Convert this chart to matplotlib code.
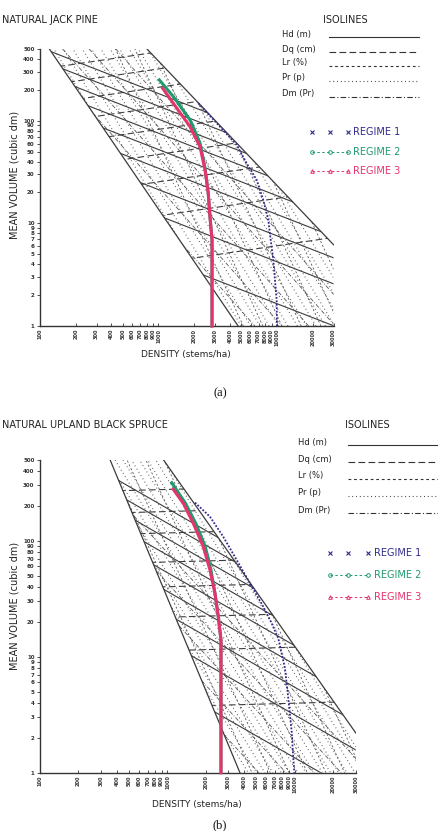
import numpy as np
import matplotlib
matplotlib.use("Agg")
import matplotlib.pyplot as plt
from matplotlib.patches import Polygon
from matplotlib.lines import Line2D
from matplotlib.ticker import NullLocator

# ---------------- DATA ----------------
x_ticks = [100, 200, 300, 400, 500, 600, 700, 800, 900, 1000,
           2000, 3000, 4000, 5000, 6000, 7000, 8000, 9000, 10000, 20000, 30000]
y_ticks = [1, 2, 3, 4, 5, 6, 7, 8, 9, 10, 20, 30, 40, 50, 60, 70, 80, 90,
           100, 200, 300, 400, 500]

# panel (a) natural jack pine
a_left_density = [120, 4700]
a_left_volume = [500, 1]
a_right_density = [800, 30000]
a_right_volume = [500, 6.2]
a_hd_slope = -0.45
a_hd_left_volumes = [3.14, 11.3, 25, 48, 85, 140, 215, 320, 470]
a_dq_slope = 0.17
a_dq_left_volumes = [4.57, 12.0, 24, 42, 70, 110, 165, 240, 340]
a_pr_slope = -1.9
a_pr_density_at_1 = [2900, 3450, 4150, 5000, 6000, 7200, 8600, 10300, 12400,
                     14900, 17800, 21400, 25700, 30800, 37000, 44400, 53000]
a_lr_slope = -2.5
a_lr_density_at_1 = [5200, 7600, 11000, 16000, 23500, 34000, 50000]
a_dm_slope = -1.3
a_dm_density_at_1 = [6500, 11000, 18500, 31000, 52000]

a_r1_density = [2170, 3300, 4570, 5550, 6740, 7660, 8450, 8850, 9310, 9940, 10000]
a_r1_volume = [148, 87.6, 58.1, 38.5, 26.5, 16.9, 10.8, 6.9, 4.4, 1.79, 1.0]
a_r2_density = [1016, 1334, 1845, 2240, 2470, 2630, 2720, 2830, 2830]
a_r2_volume = [250, 172, 102, 60.8, 34.7, 19.7, 11.6, 6.9, 1.0]
a_r3_density = [1085, 1334, 1845, 2240, 2470, 2630, 2720, 2830, 2830]
a_r3_volume = [207, 148, 87.6, 55.9, 33.2, 19.7, 11.6, 6.9, 1.0]

# panel (b) natural upland black spruce
b_left_density = [354, 3700]
b_left_volume = [500, 1]
b_right_density = [927, 30000]
b_right_volume = [500, 2.2]
b_hd_slope = -0.63
b_hd_left_volumes = [3.34, 10.2, 21, 38, 62, 98, 150, 225, 330]
b_dq_slope = 0.03
b_dq_left_volumes = [3.8, 11.4, 22, 40, 65, 115, 175, 270]
b_pr_slope = -1.8
b_pr_density_at_1 = [3700, 4300, 5000, 5800, 6700, 7800, 9000, 10500, 12200,
                     14100, 16400, 19000, 22000, 25500, 29600, 34300, 39800]
b_lr_slope = -2.4
b_lr_density_at_1 = [4600, 6400, 9000, 12500, 17500, 24500, 34000]
b_dm_slope = -1.2
b_dm_density_at_1 = [5200, 8500, 14000, 23000, 38000]

b_r1_density = [1644, 2154, 2739, 3489, 4436, 5641, 6567, 7396, 8349, 8860, 9420, 9700, 9900]
b_r1_volume = [213, 161, 108, 68.2, 42.9, 27.0, 19.4, 14.4, 7.94, 4.38, 2.26, 1.33, 1.0]
b_r2_density = [1079, 1384, 1667, 1979, 2193, 2358, 2503, 2628, 2628]
b_r2_volume = [316, 210, 141, 88.8, 55.9, 35.2, 22.1, 13.9, 1.0]
b_r3_density = [1110, 1330, 1594, 1909, 2154, 2358, 2503, 2628, 2628]
b_r3_volume = [277, 210, 141, 88.8, 55.9, 35.2, 22.1, 13.9, 1.0]

iso_labels = ["Hd (m)", "Dq (cm)", "Lr (%)", "Pr (p)", "Dm (Pr)"]
regime_labels = ["REGIME 1", "REGIME 2", "REGIME 3"]

# ---------------- STYLE ----------------
C_ISO = "#3c3c3c"
C_R1 = "#2f2a8c"
C_R2 = "#1f9a6c"
C_R3 = "#e5336c"
ST_HD = "-"
ST_DQ = (0, (6, 3))
ST_LR = (0, (2.5, 2.5))
ST_PR = (0, (0.8, 2.6))
ST_DM = (0, (5, 2, 1, 2))

W, H = 439, 831
fig = plt.figure(figsize=(W / 100, H / 100), dpi=100)


def fxy(x, y):
    return x / W, 1 - y / H


def on_boundary(v, bx, by):
    lx1, lx2 = np.log10(bx)
    ly1, ly2 = np.log10(by)
    return 10 ** (lx1 + (np.log10(v) - ly1) * (lx2 - lx1) / (ly2 - ly1))


def family(ax, clip, ax0, ay0, slope, ls, lw=0.7, color=C_ISO):
    xs = np.array([30.0, 200000.0])
    for x0, y0 in zip(ax0, ay0):
        ys = y0 * (xs / x0) ** slope
        ln, = ax.plot(xs, ys, ls=ls, lw=lw, color=color, zorder=2)
        ln.set_clip_path(clip)


def panel(rect, left_d, left_v, right_d, right_v,
          hd_s, hd_v, dq_s, dq_v, pr_s, pr_d, lr_s, lr_d, dm_s, dm_d,
          r1, r2, r3):
    ax = fig.add_axes(rect)
    ax.set_xscale("log")
    ax.set_yscale("log")
    ax.set_xlim(100, 30000)
    ax.set_ylim(1, 500)
    for s in ["top", "right"]:
        ax.spines[s].set_visible(False)
    for s in ["left", "bottom"]:
        ax.spines[s].set_color("#333333")
        ax.spines[s].set_linewidth(1.0)
    ax.set_xticks(x_ticks)
    ax.set_xticklabels([str(v) for v in x_ticks], rotation=90,
                       fontsize=3.6, fontweight="bold")
    ax.set_yticks(y_ticks)
    ax.set_yticklabels([str(v) for v in y_ticks], fontsize=4, fontweight="bold")
    ax.xaxis.set_minor_locator(NullLocator())
    ax.yaxis.set_minor_locator(NullLocator())
    ax.tick_params(axis="x", direction="in", length=2.5, width=0.6, pad=2,
                   colors="#333333")
    ax.tick_params(axis="y", direction="out", length=2.5, width=0.6, pad=1.5,
                   colors="#333333")
    ax.patch.set_alpha(0)

    verts = [(left_d[0], left_v[0]), (right_d[0], right_v[0]),
             (right_d[1], right_v[1]), (30000, 1), (left_d[1], left_v[1])]
    clip = Polygon(verts, closed=True, transform=ax.transData,
                   facecolor="none", edgecolor="none")

    # isolines
    hd_x = [on_boundary(v, left_d, left_v) for v in hd_v]
    family(ax, clip, hd_x, hd_v, hd_s, ST_HD, lw=0.8)
    dq_x = [on_boundary(v, left_d, left_v) for v in dq_v]
    family(ax, clip, dq_x, dq_v, dq_s, ST_DQ, lw=0.8)
    family(ax, clip, pr_d, [1] * len(pr_d), pr_s, ST_PR, lw=0.8, color="#555555")
    family(ax, clip, lr_d, [1] * len(lr_d), lr_s, ST_LR, lw=0.6, color="#555555")
    family(ax, clip, dm_d, [1] * len(dm_d), dm_s, ST_DM, lw=0.6, color="#555555")

    # boundaries
    ax.plot(left_d, left_v, color=C_ISO, lw=0.9, zorder=3)
    ax.plot(right_d, right_v, color=C_ISO, lw=0.9, zorder=3)

    # regimes
    ax.plot(r1[0], r1[1], color=C_R1, lw=1.3, ls=(0, (1, 0.9)), zorder=5,
            clip_on=False)
    ax.plot(r2[0], r2[1], color=C_R2, lw=2.2, zorder=6, clip_on=False)
    ax.plot(r3[0], r3[1], color=C_R3, lw=2.2, zorder=7, clip_on=False)
    return ax


# panel (a)
panel([40 / W, 1 - 326 / H, 293.5 / W, 277 / H],
      a_left_density, a_left_volume, a_right_density, a_right_volume,
      a_hd_slope, a_hd_left_volumes, a_dq_slope, a_dq_left_volumes,
      a_pr_slope, a_pr_density_at_1, a_lr_slope, a_lr_density_at_1,
      a_dm_slope, a_dm_density_at_1,
      (a_r1_density, a_r1_volume), (a_r2_density, a_r2_volume),
      (a_r3_density, a_r3_volume))

# panel (b)
panel([40 / W, 1 - 772.7 / H, 315.8 / W, 313.1 / H],
      b_left_density, b_left_volume, b_right_density, b_right_volume,
      b_hd_slope, b_hd_left_volumes, b_dq_slope, b_dq_left_volumes,
      b_pr_slope, b_pr_density_at_1, b_lr_slope, b_lr_density_at_1,
      b_dm_slope, b_dm_density_at_1,
      (b_r1_density, b_r1_volume), (b_r2_density, b_r2_volume),
      (b_r3_density, b_r3_volume))

TXT = "#222222"


def text(x, y, s, **kw):
    fx, fy = fxy(x, y)
    kw.setdefault("color", TXT)
    fig.text(fx, fy, s, **kw)


def fline(x0, x1, y, **kw):
    (a, b), (c, d) = fxy(x0, y), fxy(x1, y)
    fig.add_artist(Line2D([a, c], [b, d], transform=fig.transFigure, **kw))


def legends(title_text, title_y, iso_cx, iso_tx, iso_lx0, iso_lx1, iso_rows,
            reg_mx, reg_tx, reg_rows, xlab_cx, xlab_y, ylab_cy):
    text(2, title_y, title_text, fontsize=7, va="center", ha="left")
    text(iso_cx, title_y, "ISOLINES", fontsize=7, va="center", ha="center")
    styles = [ST_HD, ST_DQ, ST_LR, ST_PR, ST_DM]
    for lab, st, ry in zip(iso_labels, styles, iso_rows):
        text(iso_tx, ry, lab, fontsize=6, va="center", ha="left")
        fline(iso_lx0, iso_lx1, ry + 3, color="#333333", lw=0.8, ls=st)
    # regime legend
    for i, (lab, ry) in enumerate(zip(regime_labels, reg_rows)):
        col = [C_R1, C_R2, C_R3][i]
        mk = ["x", "o", "^"][i]
        xs = [fxy(x, ry)[0] for x in reg_mx]
        ys = [fxy(0, ry)[1]] * 3
        if i == 0:
            fig.add_artist(Line2D(xs, ys, transform=fig.transFigure, ls="none",
                                  marker=mk, ms=2.5, mew=0.8, color=col))
        else:
            fig.add_artist(Line2D(xs, ys, transform=fig.transFigure,
                                  ls=(0, (2.5, 2.5)), lw=0.7, marker=mk, ms=2.6,
                                  mew=0.7, mfc="none", color=col))
        text(reg_tx, ry, lab, fontsize=7, va="center", ha="left", color=col)
    text(xlab_cx, xlab_y, "DENSITY (stems/ha)", fontsize=6.5, va="center",
         ha="center")
    text(15, ylab_cy, "MEAN VOLUME (cubic dm)", fontsize=7, va="center",
         ha="center", rotation=90)


legends("NATURAL JACK PINE", 20, 345, 282, 329, 419, [34, 49, 63, 78, 93.5],
        [311.7, 330, 348.3], 353, [132, 152, 171], 186, 354, 175)
legends("NATURAL UPLAND BLACK SPRUCE", 425, 367, 298, 348, 439,
        [442, 459, 476, 493, 510], [330, 348.3, 367.7], 374,
        [553, 575, 597], 197, 805, 606)

text(220, 393, "(a)", fontsize=9, family="Liberation Serif", ha="center",
     va="center", color="#111111")
text(220, 825, "(b)", fontsize=9, family="Liberation Serif", ha="center",
     va="center", color="#111111")

fig.savefig("out.png", dpi=100)
